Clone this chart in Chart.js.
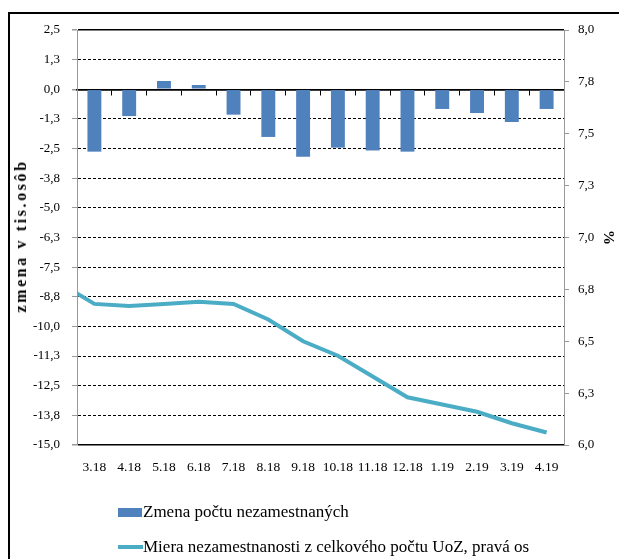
<!DOCTYPE html>
<html>
<head>
<meta charset="utf-8">
<script src="https://cdn.jsdelivr.net/npm/chart.js@4.4.1/dist/chart.umd.min.js"></script>
<style>
  body { margin: 0; background: #fff; }
  .wrap { position: relative; width: 619px; height: 559px; overflow: hidden; font-family: "Liberation Serif", "Times New Roman", serif; color: #000; }
  .frame { position: absolute; left: 8px; top: 12px; width: 700px; height: 700px; border-top: 2px solid #000; border-left: 2px solid #000; }
  #chart { position: absolute; left: 0; top: 0; }
  .ytitle { position: absolute; left: 21px; top: 236px; transform: translate(-50%, -50%) rotate(-90deg); font-weight: bold; font-size: 16px; letter-spacing: 2.6px; white-space: nowrap; }
  .legend-item { position: absolute; left: 118px; height: 20px; display: flex; align-items: center; font-size: 17px; white-space: nowrap; }
  .swatch-bar { width: 24px; height: 9px; background: #4F81BD; margin-right: 1px; }
  .swatch-line { width: 25px; height: 4px; background: #4BACC6; }
</style>
</head>
<body>
<div class="wrap">
  <div class="frame"></div>
  <canvas id="chart" width="619" height="559"></canvas>
  <div class="ytitle">zmena v tis.osôb</div>
  <div class="legend-item" style="top: 502px;"><span class="swatch-bar"></span>Zmena počtu nezamestnaných</div>
  <div class="legend-item" style="top: 537px;"><span class="swatch-line"></span>Miera nezamestnanosti z celkového počtu UoZ, pravá os</div>
</div>
<script>
// Data
const months = ["3.18", "4.18", "5.18", "6.18", "7.18", "8.18", "9.18", "10.18", "11.18", "12.18", "1.19", "2.19", "3.19", "4.19"];
const changeValues = [-2.63, -1.13, 0.35, 0.18, -1.07, -2.01, -2.84, -2.46, -2.58, -2.63, -0.83, -1.0, -1.38, -0.83];
const rateValues = [6.68, 6.67, 6.68, 6.69, 6.68, 6.605, 6.5, 6.43, 6.33, 6.23, 6.195, 6.16, 6.105, 6.06];
const rateEdge = 6.73; // line enters at the left edge of the plot
const leftTicks = [-15, -13.75, -12.5, -11.25, -10, -8.75, -7.5, -6.25, -5, -3.75, -2.5, -1.25, 0, 1.25, 2.5];
const rightTicks = [6, 6.25, 6.5, 6.75, 7, 7.25, 7.5, 7.75, 8];
const solidLines = [2.5, 0, -15];

const fmt = (v) => Number(v).toFixed(1).replace(".", ",");
const serif = "'Liberation Serif', 'Times New Roman', serif";
const tickFont = { family: serif, size: 13 };
const isSolid = (c) => c.tick && solidLines.includes(c.tick.value);

// line data on a linear x axis so the first segment can start at the plot edge
const ratePoints = [{ x: -0.5, y: rateEdge }].concat(
  rateValues.map((v, i) => ({ x: i, y: v }))
);

const ctx = document.getElementById("chart").getContext("2d");
const chart = new Chart(ctx, {
  type: "bar",
  data: {
    labels: months,
    datasets: [
      {
        type: "bar",
        label: "Zmena počtu nezamestnaných",
        data: changeValues,
        backgroundColor: "#4F81BD",
        borderWidth: 0,
        grouped: false,
        barPercentage: 0.4,
        categoryPercentage: 1,
        xAxisID: "x",
        yAxisID: "y",
      },
      {
        type: "line",
        label: "Miera nezamestnanosti z celkového počtu UoZ, pravá os",
        data: ratePoints,
        borderColor: "#4BACC6",
        borderWidth: 4,
        pointRadius: 0,
        tension: 0,
        fill: false,
        xAxisID: "xl",
        yAxisID: "y2",
      },
    ],
  },
  options: {
    responsive: false,
    animation: false,
    layout: { padding: { top: 30, bottom: 74, left: 0, right: 0 } },
    plugins: {
      legend: { display: false },
      tooltip: { enabled: false },
    },
    scales: {
      x: {
        type: "category",
        position: "bottom",
        offset: true,
        grid: { display: false, drawTicks: false },
        border: { display: false },
        ticks: { color: "#000", font: { family: serif, size: 13.5 }, padding: 14, autoSkip: false, maxRotation: 0, minRotation: 0 },
        afterFit: (axis) => { axis.height = 40; },
      },
      xz: {
        type: "category",
        position: { y: 0 },
        offset: true,
        grid: { display: true, drawOnChartArea: false, drawTicks: true, tickLength: 5, color: "#000", offset: true },
        border: { display: true, color: "#000", width: 1.5 },
        ticks: { display: false },
      },
      xl: {
        type: "linear",
        display: false,
        offset: false,
        min: -0.5,
        max: 13.5,
      },
      y: {
        position: "left",
        min: -15,
        max: 2.5,
        afterBuildTicks: (axis) => { axis.ticks = leftTicks.map((v) => ({ value: v })); },
        ticks: { color: "#000", font: tickFont, padding: 12, autoSkip: false, callback: (v) => fmt(v) },
        grid: {
          color: "#000",
          lineWidth: (c) => (isSolid(c) ? 1.5 : 1),
          tickColor: "#999",
          tickLength: 5,
          tickBorderDash: [],
        },
        border: { color: "#999", width: 1, dash: (c) => (isSolid(c) ? [] : [3, 2]) },
        afterFit: (axis) => { axis.width = 77; },
      },
      y2: {
        position: "right",
        min: 6,
        max: 8,
        afterBuildTicks: (axis) => { axis.ticks = rightTicks.map((v) => ({ value: v })); },
        ticks: { color: "#000", font: tickFont, padding: 9, autoSkip: false, callback: (v) => fmt(v) },
        grid: { drawOnChartArea: false, tickColor: "#999", tickLength: 5 },
        border: { color: "#999", width: 1 },
        title: {
          display: true,
          text: "%",
          color: "#000",
          font: { family: serif, size: 15, weight: "bold" },
          padding: { top: 2, bottom: 0 },
        },
        afterFit: (axis) => { axis.width = 55; },
      },
    },
  },
});
</script>
</body>
</html>
